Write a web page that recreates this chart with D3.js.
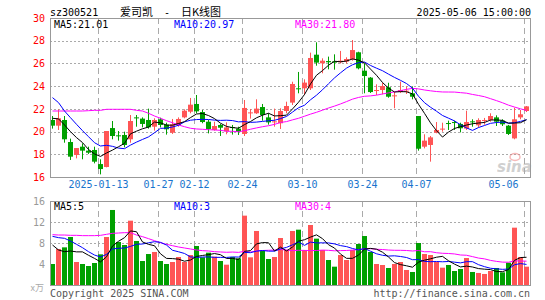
<!DOCTYPE html>
<html><head><meta charset="utf-8">
<script src="https://cdn.jsdelivr.net/npm/d3@7"></script>
<style>body{margin:0;background:#fff} svg{display:block}</style>
</head><body>
<svg id="c" width="545" height="300"></svg>
<script>
// ---------- data ----------
const dates = ["12-31","01-02","01-03","01-06","01-07","01-08","01-09","01-10","01-13","01-14",
"01-15","01-16","01-17","01-20","01-21","01-22","01-23","01-24","01-27","02-05",
"02-06","02-07","02-10","02-11","02-12","02-13","02-14","02-17","02-18","02-19",
"02-20","02-21","02-24","02-25","02-26","02-27","02-28","03-03","03-04","03-05",
"03-06","03-07","03-10","03-11","03-12","03-13","03-14","03-17","03-18","03-19",
"03-20","03-21","03-24","03-25","03-26","03-27","03-28","03-31","04-01","04-02",
"04-03","04-07","04-08","04-09","04-10","04-11","04-14","04-15","04-16","04-17",
"04-18","04-21","04-22","04-23","04-24","04-25","04-28","04-29","04-30","05-06"];
const opens = [21.02,20.52,21.02,19.08,17.94,18.67,18.32,18.38,17.14,16.88,
20.31,19.67,19.70,19.32,21.25,21.14,21.02,20.43,21.08,20.61,
19.90,20.58,21.25,21.75,22.43,21.72,20.87,20.14,20.58,20.02,
20.40,20.26,19.79,21.64,21.61,22.16,21.25,20.84,20.73,21.81,
22.55,23.81,23.81,23.81,26.77,26.01,26.21,26.18,26.10,26.16,
26.36,26.98,25.36,24.75,23.63,23.66,23.90,23.13,23.48,23.54,
23.37,21.37,18.67,18.82,19.90,20.20,20.75,20.84,20.67,20.26,
20.90,20.55,20.96,21.02,21.25,20.96,20.52,19.40,21.25,21.81];
const closes = [20.52,21.17,19.32,17.79,18.55,18.32,18.14,17.35,16.70,20.05,
19.61,19.61,18.82,20.93,21.20,20.67,20.37,21.02,20.58,20.20,
20.64,21.11,21.84,22.37,21.78,20.84,20.23,20.49,20.34,20.37,
20.32,19.96,22.08,21.69,22.02,21.46,20.81,20.90,21.81,22.25,
24.19,23.75,24.31,26.48,26.07,26.24,26.10,26.07,26.24,26.39,
27.18,25.57,24.89,23.48,23.66,24.01,23.07,23.19,23.66,23.60,
23.07,18.49,19.20,19.49,20.14,20.26,20.69,20.78,20.29,20.84,
20.84,21.02,21.02,21.37,20.87,20.64,19.79,21.08,21.52,22.22];
const highs = [21.37,21.96,21.37,19.38,18.55,18.96,18.67,18.67,17.56,20.05,
20.93,20.05,19.99,21.46,21.46,21.25,22.02,21.17,21.22,20.78,
21.11,21.25,21.96,22.96,23.22,21.90,21.02,20.87,20.67,20.81,
20.58,20.43,22.78,21.99,22.84,22.43,21.61,22.02,22.05,22.63,
24.39,25.25,24.60,26.95,27.86,26.45,26.60,26.80,27.10,26.54,
28.06,27.03,26.01,24.80,24.16,24.30,24.30,23.51,24.40,23.98,
23.98,21.37,19.76,19.61,20.84,20.78,20.96,20.96,20.78,21.84,
21.08,21.17,21.20,21.61,21.43,21.08,20.58,22.10,21.90,22.25];
const lows = [20.26,20.14,19.02,17.50,17.64,17.56,18.03,17.20,16.23,16.85,
19.32,19.20,18.61,19.02,20.43,20.37,20.26,20.08,20.37,19.73,
19.79,20.43,21.17,21.61,21.61,20.73,19.84,20.08,19.61,19.76,
19.73,19.70,19.61,21.14,21.55,20.96,20.61,20.43,20.23,21.61,
22.34,23.37,23.22,23.66,25.80,25.13,25.48,25.45,26.00,26.00,
26.24,25.48,23.37,23.40,23.22,23.28,22.98,22.05,23.40,23.31,
22.84,18.32,18.52,17.35,19.85,19.99,20.14,20.14,19.93,20.14,
20.43,20.37,20.61,20.87,20.49,20.49,19.70,19.32,21.08,21.72];
const volumes = [4.00,6.86,7.17,9.14,4.38,4.00,3.62,4.19,5.84,9.14,
14.29,8.19,7.62,12.25,8.38,4.57,5.90,6.29,4.57,4.00,
4.38,5.33,4.38,5.71,7.43,5.27,6.16,5.40,4.57,3.87,
5.33,5.08,13.21,5.27,10.29,6.54,4.95,5.33,8.95,6.67,
10.29,10.54,6.67,11.43,8.83,6.67,4.76,3.49,5.71,4.76,
6.67,7.81,9.33,6.29,4.00,3.81,3.24,4.00,4.38,2.86,
2.48,8.00,5.90,5.71,4.38,3.30,3.81,2.67,3.05,5.14,
2.48,2.29,2.10,2.67,3.24,2.41,4.25,10.92,5.33,3.49];
// moving-average values at the left edge (need days before the window)
const ma5Head = [21.17,21.12,20.58,19.99];
const ma10Head = [22.99,22.55,21.81,21.22,20.64,20.08,19.55,19.02,18.73];
const ma30Head = [21.81,21.81,21.81,21.81,21.81,21.81,21.84,21.87,21.87,21.96,
21.96,21.96,21.96,21.96,21.87,21.81,21.61,21.37,21.17,20.96,
20.78,20.58,20.43,20.29,20.23,20.20,20.17,20.14,20.11];
const vma5Head = [7.62,6.67,6.35,6.48];
const vma10Head = [9.27,9.02,8.89,8.38,7.75,7.11,6.35,5.71,5.33];
const vma30Head = [9.59,9.52,9.52,9.46,9.46,9.40,9.40,9.40,9.46,9.65,
9.84,9.90,9.97,9.97,9.52,9.21,8.83,8.44,8.06,7.75,
7.49,7.24,7.05,6.86,6.67,6.54,6.48,6.35,6.29];
const tickDates = ["01-13","01-27","02-12","02-24","03-10","03-24","04-07","05-06"];
const tickLabels = ["2025-01-13","01-27","02-12","02-24","03-10","03-24","04-07","05-06"];
const priceTicks = [16,18,20,22,24,26,28,30];
const priceGrid = [18,20,22,24,26,28];
const volTicks = [4,8,12,16];
const volGrid = [8,12];
const priceLegend = ["MA5:21.01","MA10:20.97","MA30:21.80"];
const volLegend = ["MA5:5","MA10:3","MA30:4"];
const code = "sz300521", stockName = "爱司凯", chartName = "日K线图";
const stamp = "2025-05-06 15:00:00";

// ---------- helpers ----------
function movingAvg(vals, n, head){
  return vals.map((v,i)=> i < n-1 ? head[i] : d3.mean(vals.slice(i-n+1,i+1)));
}
const UP="#ff5555", DOWN="#00a000", MAC=["#000000","#0000ff","#ff00ff"];
const FONT="'DejaVu Sans Mono','Liberation Mono',monospace";

const svg = d3.select("#c");
const L=50, R=530, PT=18, PB=177, VT=201, VB=285;
const n = dates.length;
const xb = d3.scaleBand().domain(d3.range(n)).range([L,R]);
const xl = d3.scaleLinear().domain([0,n]).range([L,R]);
const yP = d3.scaleLinear().domain([16,30]).range([PB,PT]);
const yV = d3.scaleLinear().domain([0,16]).range([VB,VT]);
const tickIdx = tickDates.map(d=>dates.indexOf(d));
const isUp = i => closes[i] >= opens[i];

// header
svg.append("text").attr("x",50).attr("y",16).attr("font-family",FONT).attr("font-size",10).text(code);
svg.append("text").attr("x",120).attr("y",16).attr("font-family","'Noto Sans CJK SC',sans-serif").attr("font-size",11).text(stockName);
svg.append("text").attr("x",164).attr("y",16).attr("font-family",FONT).attr("font-size",10).text("-");
svg.append("text").attr("x",181).attr("y",16).attr("font-family","'Noto Sans CJK SC',sans-serif").attr("font-size",11).text(chartName);
svg.append("text").attr("x",531).attr("y",16).attr("text-anchor","end").attr("font-family",FONT).attr("font-size",10).text(stamp);

function panel(top,bottom,grid,yScale){
  const g = svg.append("g");
  g.selectAll(".hg").data(grid).enter().append("line")
    .attr("x1",L).attr("x2",R).attr("y1",d=>Math.round(yScale(d))+0.5).attr("y2",d=>Math.round(yScale(d))+0.5)
    .attr("stroke","#aaa").attr("stroke-dasharray","2,2");
  g.selectAll(".vg").data(tickIdx).enter().append("line")
    .attr("x1",i=>Math.round(xl(i))+0.5).attr("x2",i=>Math.round(xl(i))+0.5)
    .attr("y1",top).attr("y2",bottom)
    .attr("stroke","#aaa").attr("stroke-dasharray","6,4");
  return g;
}
panel(PT,PB,priceGrid,yP);
panel(VT,VB,volGrid,yV);

// watermark
const wm = svg.append("g").attr("opacity",0.55);
wm.append("ellipse").attr("cx",515).attr("cy",157).attr("rx",5).attr("ry",3.5).attr("fill","none").attr("stroke","#f08080").attr("stroke-width",1.5);
wm.append("text").attr("x",497).attr("y",172).attr("font-family","'DejaVu Sans',sans-serif").attr("font-style","italic").attr("font-weight","bold").attr("font-size",15).attr("fill","#aaa").text("sina");

// candles
const cg = svg.append("g");
cg.selectAll(".wick").data(d3.range(n)).enter().append("line")
  .attr("x1",i=>xb(i)+2.5).attr("x2",i=>xb(i)+2.5)
  .attr("y1",i=>yP(highs[i])).attr("y2",i=>yP(lows[i]))
  .attr("stroke",i=>isUp(i)?UP:DOWN).attr("stroke-width",1);
cg.selectAll(".body").data(d3.range(n)).enter().append("rect")
  .attr("x",i=>xb(i)).attr("width",5)
  .attr("y",i=>yP(Math.max(opens[i],closes[i])))
  .attr("height",i=>Math.max(1,Math.abs(yP(opens[i])-yP(closes[i]))))
  .attr("fill",i=>isUp(i)?UP:DOWN);

// volume bars
svg.append("g").selectAll("rect").data(d3.range(n)).enter().append("rect")
  .attr("x",i=>xb(i)).attr("width",5)
  .attr("y",i=>yV(volumes[i])).attr("height",i=>VB-yV(volumes[i]))
  .attr("fill",i=>isUp(i)?UP:DOWN);

// MA lines
function maLines(series, yScale){
  const line = d3.line().x((d,i)=>xb(i)+2.5).y(d=>yScale(d));
  [2,1,0].forEach(k=>{
    svg.append("path").datum(series[k]).attr("d",line)
      .attr("fill","none").attr("stroke",MAC[k]).attr("stroke-width",1);
  });
}
maLines([movingAvg(closes,5,ma5Head),movingAvg(closes,10,ma10Head),movingAvg(closes,30,ma30Head)], yP);
maLines([movingAvg(volumes,5,vma5Head),movingAvg(volumes,10,vma10Head),movingAvg(volumes,30,vma30Head)], yV);

// borders
[[PT,PB],[VT,VB]].forEach(([t,b])=>{
  svg.append("rect").attr("x",L+0.5).attr("y",t+0.5).attr("width",R-L).attr("height",b-t)
    .attr("fill","none").attr("stroke","#999").attr("stroke-width",1);
});

// legends
const legX=[54,174,295];
priceLegend.forEach((t,k)=>svg.append("text").attr("x",legX[k]).attr("y",28).attr("font-family",FONT).attr("font-size",10).attr("fill",MAC[k]).text(t));
volLegend.forEach((t,k)=>svg.append("text").attr("x",legX[k]).attr("y",210).attr("font-family",FONT).attr("font-size",10).attr("fill",MAC[k]).text(t));

// axes
const ay = svg.append("g").attr("transform",`translate(${L},0)`)
  .call(d3.axisLeft(yP).tickValues(priceTicks).tickSize(0).tickPadding(5));
ay.select(".domain").remove();
ay.selectAll("text").attr("fill","#ff0000").attr("font-family",FONT).attr("font-size",10);

const av = svg.append("g").attr("transform",`translate(${L},0)`)
  .call(d3.axisLeft(yV).tickValues(volTicks).tickSize(0).tickPadding(5));
av.select(".domain").remove();
av.selectAll("text").attr("fill","#999").attr("font-family",FONT).attr("font-size",10);
svg.append("text").attr("x",44).attr("y",291).attr("text-anchor","end").attr("font-family","'Noto Sans CJK SC',sans-serif").attr("font-size",9).attr("fill","#aaa").text("x万");

const ax = svg.append("g").attr("transform",`translate(0,${PB})`)
  .call(d3.axisBottom(xl).tickValues(tickIdx).tickFormat((d,k)=>tickLabels[k]).tickSize(0).tickPadding(4));
ax.select(".domain").remove();
ax.selectAll("text").attr("fill","#1874cd").attr("font-family",FONT).attr("font-size",10);
// keep the last label inside the plot, as in the original
ax.selectAll("text").filter((d,k,nodes)=>k===nodes.length-1).attr("text-anchor","end").attr("dx",-6);

// footer
svg.append("text").attr("x",50).attr("y",297).attr("font-family",FONT).attr("font-size",10).attr("fill","#555").text("Copyright 2025 SINA.COM");
svg.append("text").attr("x",530).attr("y",297).attr("text-anchor","end").attr("font-family",FONT).attr("font-size",10).attr("fill","#555").text("http://finance.sina.com.cn");
</script>
</body></html>
